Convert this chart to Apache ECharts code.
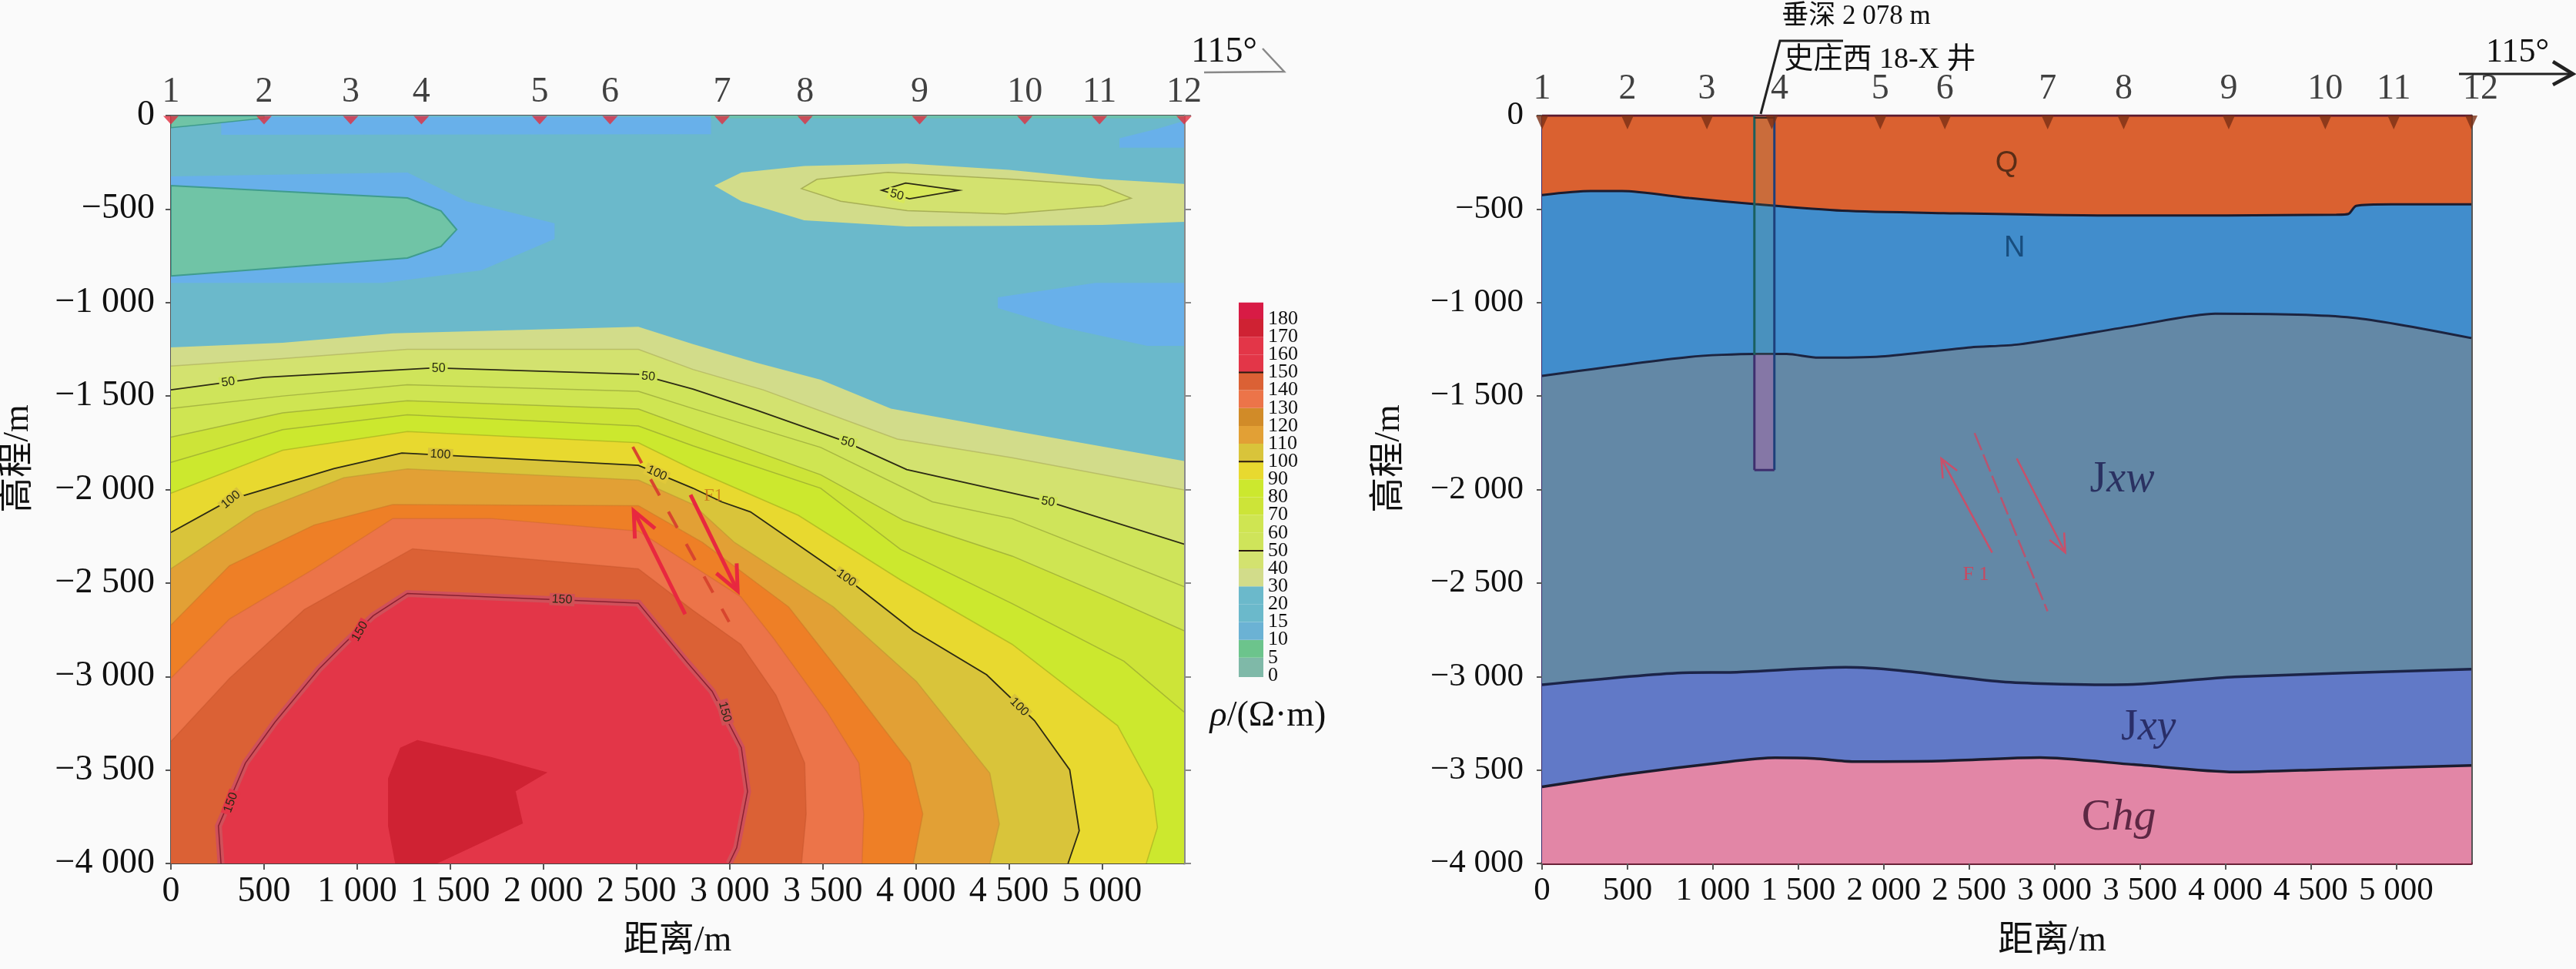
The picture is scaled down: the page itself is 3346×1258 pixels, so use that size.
<!DOCTYPE html>
<html><head><meta charset="utf-8">
<style>html,body{margin:0;padding:0;background:#fafafa}#c{width:3346px;height:1258px}</style>
<script src="https://cdn.jsdelivr.net/npm/echarts@6/dist/echarts.min.js"></script>
</head><body><div id="c"></div>
<script>
// ---------- shared data ----------
const xMax = 5440;
const stationX = [0,500,965,1345,1980,2358,2960,3405,4020,4585,4986,5440];
const stationLabels = ['1','2','3','4','5','6','7','8','9','10','11','12'];
const xTicks = [0,500,1000,1500,2000,2500,3000,3500,4000,4500,5000];
const colorLevels = ['0','5','10','15','20','30','40','50','60','70','80','90','100','110','120','130','140','150','160','170','180'];
const majorLevels = ['50','100','150'];

// ---------- left panel: resistivity contours, outline of each level as [distance, elevation] ----------
const lowBlueTop = [[270,-8],[2900,-8],[2900,-100],[2750,-100],[270,-103]];
const lowBlueLens = [[0,-325],[1270,-305],[1587,-458],[2060,-577],[2060,-660],[1666,-828],[1139,-895],[400,-895],[0,-895]];
const lowBlueRight = [[4440,-972],[4965,-895],[5440,-895],[5440,-1232],[5242,-1232],[4777,-1131],[4440,-1030]];
const lowBlueCorner = [[5093,-122],[5300,-70],[5440,-29],[5440,-172],[5093,-172]];
const lowGreenLens = [[0,-375],[1270,-441],[1450,-510],[1534,-610],[1450,-700],[1270,-762],[400,-828],[0,-858]];
const lowGreenWedge = [[0,-2],[500,-2],[500,-14],[200,-45],[0,-65]];
const lowGreenStrip = [[2900,0],[5440,0],[5440,-14],[2900,-14]];
const blob30 = [[2918,-375],[3063,-305],[3400,-270],[3950,-256],[4500,-290],[5000,-340],[5440,-366],[5440,-568],[5000,-585],[4500,-590],[3950,-593],[3400,-560],[3063,-458]];
const blob40 = [[3385,-391],[3469,-341],[3849,-304],[4524,-341],[4988,-374],[5156,-442],[5009,-484],[4481,-526],[3954,-509],[3596,-458]];
const blob50 = [[3816,-400],[3945,-361],[4230,-400],[3965,-445]];
const contour30 = [[0,-1240],[600,-1215],[1190,-1165],[2510,-1130],[2803,-1222],[3146,-1322],[3489,-1413],[3866,-1567],[4517,-1685],[5440,-1848]];
const contour40 = [[0,-1340],[600,-1300],[1270,-1250],[2510,-1250],[2803,-1358],[3180,-1467],[3900,-1730],[4517,-1830],[5440,-2002]];
const contour50 = [[0,-1467],[500,-1400],[1414,-1350],[2510,-1384],[2803,-1463],[3146,-1576],[3609,-1739],[3951,-1893],[4688,-2057],[5440,-2292]];
const contour60 = [[0,-1566],[600,-1500],[1270,-1440],[2510,-1475],[2803,-1567],[3489,-1775],[4089,-2066],[4517,-2156],[5440,-2519]];
const contour70 = [[0,-1720],[600,-1590],[1270,-1525],[2510,-1570],[2803,-1676],[3489,-1921],[3934,-2165],[4517,-2356],[5031,-2574],[5440,-2755]];
const contour80 = [[0,-1855],[600,-1680],[1270,-1600],[2510,-1660],[2803,-1766],[3489,-1993],[3917,-2320],[4517,-2610],[5117,-2918],[5440,-3190]];
const contour90 = [[0,-2020],[600,-1790],[1270,-1690],[2510,-1750],[2803,-1893],[3369,-2138],[3917,-2483],[4517,-2828],[5083,-3263],[5271,-3608],[5297,-3807],[5237,-4000]];
const contour100 = [[0,-2230],[322,-2053],[875,-1888],[1240,-1805],[2510,-1871],[2803,-1993],[2957,-2066],[3112,-2120],[3626,-2474],[3986,-2755],[4380,-2991],[4637,-3236],[4826,-3499],[4877,-3825],[4817,-4000]];
const contour110 = [[0,-2424],[453,-2122],[928,-1937],[1270,-1890],[2510,-1950],[2803,-2080],[3026,-2283],[3557,-2628],[4003,-3027],[4397,-3517],[4448,-3789],[4397,-4000]];
const contour120 = [[0,-2725],[315,-2407],[769,-2190],[1191,-2080],[2510,-2086],[2854,-2283],[3317,-2628],[3660,-3063],[3969,-3463],[4037,-3735],[3986,-4000]];
const contour130 = [[0,-3009],[315,-2692],[769,-2424],[1191,-2155],[1719,-2155],[2510,-2222],[3060,-2574],[3232,-2791],[3523,-3190],[3694,-3463],[3720,-3735],[3711,-4000]];
const contour140 = [[0,-3347],[315,-3009],[716,-2642],[1297,-2317],[2510,-2424],[2803,-2646],[3060,-2828],[3249,-3100],[3403,-3463],[3411,-3735],[3386,-4000]];
const contour150 = [[269,-4000],[255,-3800],[321,-3648],[400,-3463],[558,-3245],[795,-2960],[927,-2828],[1086,-2675],[1270,-2556],[2510,-2608],[2773,-2926],[2906,-3079],[3063,-3381],[3096,-3615],[3038,-3916],[2997,-4000]];
const core170 = [[1204,-4000],[1166,-3800],[1166,-3545],[1231,-3381],[1323,-3340],[1719,-3430],[2022,-3513],[1851,-3614],[1890,-3786],[1430,-4000]];
const contourLabelPoints = [[308,-1426,'50'],[1437,-1353,'50'],[2563,-1396,'50'],[3634,-1748,'50'],[4709,-2066,'50'],[3898,-425,'50'],
  [322,-2055,'100'],[1447,-1813,'100'],[2609,-1913,'100'],[3626,-2474,'100'],[4555,-3163,'100'],
  [1015,-2759,'150'],[322,-3674,'150'],[2100,-2589,'150'],[2974,-3190,'150']];
const faultLeftDash = [[2480,-1772],[2997,-2708]];
const faultLeftArrowA = [[2761,-2667],[2485,-2114]];
const faultLeftArrowB = [[2790,-2028],[3043,-2543]];
const faultLeftLabel = [[2914,-2032,'F1']];

// ---------- right panel: stratum boundaries ----------
const surfaceLine = [[0,0],[5440,0]];
const baseQ = [[0,-425],[284,-404],[468,-404],[860,-441],[1248,-474],[1757,-509],[2351,-522],[3252,-534],[4009,-534],[4650,-530],[4721,-526],[4766,-483],[4973,-475],[5440,-475]];
const baseN = [[0,-1392],[860,-1291],[1248,-1275],[1432,-1275],[1617,-1295],[1986,-1288],[2509,-1240],[2791,-1224],[3480,-1122],[3941,-1060],[4745,-1081],[5440,-1190]];
const baseJxw = [[0,-3044],[820,-2980],[1139,-2977],[1777,-2951],[2095,-2968],[2688,-3028],[3234,-3044],[3463,-3042],[4055,-3002],[5440,-2961]];
const baseJxy = [[0,-3590],[500,-3522],[1044,-3461],[1364,-3435],[1594,-3439],[1822,-3455],[2322,-3452],[2915,-3434],[3463,-3471],[4055,-3511],[4600,-3497],[5440,-3476]];
const wellX = [1243,1360];
const wellBottom = -1896;
const wellTopOfRock = -1280;
const faultRightDash = [[2532,-1698],[2959,-2651]];
const faultRightArrowA = [[2635,-2337],[2337,-1834]];
const faultRightArrowB = [[2779,-1834],[3063,-2337]];
const faultRightLabel = [[2540,-2455,'F 1']];
const stratumLabels = [[2720,-256,'{s|Q}'],[2766,-709,'{n|N}'],[3396,-1950,'{a|J}{i|xw}'],[3550,-3277,'{a|J}{i|xy}'],[3376,-3755,'{c|C}{k|hg}']];

// ---------- styles (not data) ----------
const serif = '"Liberation Serif","Noto Sans CJK SC",serif';
const C = {bg:'#fafafa',teal:'#6bb9cb',blue:'#68b0ea',green:'#70c4a6'};
const levelColor = {30:'#d2dc8a',40:'#d3e26f',50:'#cfe45a',60:'#cfe552',70:'#cde438',80:'#cce82e',90:'#e8d92f',100:'#d9c43a',110:'#e2a035',120:'#ee7f26',130:'#ec7449',140:'#db6135',150:'#e33648',170:'#cf2233'};
const palette = ['#7fb9a8','#6cc48c','#6bb2d4','#6bb9cb','#6bb9cb','#d2dc8a','#d3e26f','#cfe45a','#cfe552','#cde438','#cce82e','#e8d92f','#d9c43a','#e2a035','#d18b28','#ec7449','#db6135','#e33648','#e33648','#cf2233','#d81b45'];
const contourLabelAngles = [8,0,-5,-15,-10,-15, 40,-3,-25,-35,-45, 60,70,-3,-75];
const contourLabelBg = ['#cfe45a','#cfe45a','#cfe45a','#cfe45a','#cfe45a','#d8e85a','#d9c43a','#d9c43a','#e0c83a','#d9c43a','#d9c43a','#e33648','#e33648','#d05055','#d05055'];
const barMin = -0.09, barMax = 20.93;

const boxed = {outerBoundsMode:'none',containLabel:false};
const G = {L:{left:222,top:150,width:1316,height:971,...boxed},R:{left:2003,top:150,width:1207,height:971,...boxed},B:{left:1609,top:392.5,width:32,height:486.5,...boxed}};
const fmt = v => { const a=Math.abs(v); const s=a>=1000?Math.floor(a/1000)+' '+String(a%1000).padStart(3,'0'):String(a); return (v<0?'\u2212':'')+s; };

function pts(api,p){return p.map(d=>api.coord(d));}
// filled region + its outline
function regionSeries(x,y,list){
  return {type:'custom',xAxisIndex:x,yAxisIndex:y,clip:true,silent:true,data:list.map((o,i)=>[o.p[0][0],o.p[0][1],i]),encode:{x:0,y:1},
    renderItem(params,api){
      const o=list[params.dataIndex]; const ch=[];
      const closed=o.close?o.p.concat(o.close):o.p;
      ch.push({type:'polygon',shape:{points:pts(api,closed)},style:{fill:o.fill}});
      if(o.halo) ch.push({type:'polyline',shape:{points:pts(api,o.p)},style:{fill:null,stroke:o.halo,lineWidth:o.haloW||10}});
      if(o.line) ch.push({type:o.ring?'polygon':'polyline',shape:{points:pts(api,o.p)},style:{fill:null,stroke:o.line,lineWidth:o.lw||1.5}});
      return {type:'group',children:ch};
    }};
}
const bottomClose = [[0,-4000]];
const rightClose = [[xMax,-4000],[0,-4000]];
const minor = 'rgba(135,145,50,0.55)';
const major = '#2c2a14';
const leftRegions = [
  {p:[[0,0],[xMax,0],[xMax,-4000],[0,-4000]],fill:C.teal},
  {p:lowBlueTop,fill:C.blue},{p:lowBlueLens,fill:C.blue},{p:lowBlueRight,fill:C.blue},{p:lowBlueCorner,fill:C.blue},
  {p:lowGreenLens,fill:C.green,line:'#3f9c8e',lw:2,ring:true},{p:lowGreenWedge,fill:C.green,line:'#3f9c8e',lw:1.5,ring:true},{p:lowGreenStrip,fill:'#6cc2ac'},
  {p:blob30,fill:levelColor[30]},{p:blob40,fill:levelColor[40],line:'rgba(150,155,70,0.7)',ring:true},{p:blob50,fill:'#d8e85a',line:major,lw:1.8,ring:true},
  {p:contour30,close:rightClose,fill:levelColor[30]},
  {p:contour40,close:rightClose,fill:levelColor[40],line:'rgba(170,170,90,0.6)'},
  {p:contour50,close:rightClose,fill:levelColor[50],line:major,lw:1.8},
  {p:contour60,close:rightClose,fill:levelColor[60],line:minor},
  {p:contour70,close:rightClose,fill:levelColor[70],line:minor},
  {p:contour80,close:rightClose,fill:levelColor[80],line:minor},
  {p:contour90,close:bottomClose,fill:levelColor[90],line:'rgba(160,170,30,0.6)'},
  {p:contour100,close:bottomClose,fill:levelColor[100],line:major,lw:1.8},
  {p:contour110,close:bottomClose,fill:levelColor[110],line:'rgba(190,150,50,0.6)'},
  {p:contour120,close:bottomClose,fill:levelColor[120],line:'rgba(200,120,40,0.5)'},
  {p:contour130,close:bottomClose,fill:levelColor[130],line:'rgba(200,100,50,0.4)'},
  {p:contour140,close:bottomClose,fill:levelColor[140],line:'rgba(190,80,40,0.4)'},
  {p:contour150,fill:levelColor[150],halo:'#d0505a',haloW:9,line:'#8a2030',lw:1.5},
  {p:core170,fill:levelColor[170]}
];

function arrowSeries(x,y,dash,arrows,colorDash,colorArrow,wDash,wArrow,pattern,barb){
  return {type:'custom',xAxisIndex:x,yAxisIndex:y,clip:false,silent:true,z:5,data:[[dash[0][0],dash[0][1]]],encode:{x:0,y:1},
    renderItem(params,api){
      const ch=[{type:'polyline',shape:{points:pts(api,dash)},style:{fill:null,stroke:colorDash,lineWidth:wDash,lineDash:pattern}}];
      arrows.forEach(a=>{
        const t=api.coord(a[0]),h=api.coord(a[1]); const ang=Math.atan2(t[1]-h[1],t[0]-h[0]);
        const bar=s=>[h[0]+barb*Math.cos(ang+s*0.42),h[1]+barb*Math.sin(ang+s*0.42)];
        ch.push({type:'polyline',shape:{points:[t,h]},style:{fill:null,stroke:colorArrow,lineWidth:wArrow}});
        ch.push({type:'polyline',shape:{points:[bar(1),h,bar(-1)]},style:{fill:null,stroke:colorArrow,lineWidth:wArrow,lineJoin:'miter'}});
      });
      return {type:'group',children:ch};
    }};
}
function textSeries(x,y,rows,size,color){
  return {type:'scatter',xAxisIndex:x,yAxisIndex:y,symbolSize:0,silent:true,z:6,data:rows.map(r=>[r[0],r[1]]),
    label:{show:true,position:'inside',fontFamily:serif,fontSize:size,color,formatter:p=>rows[p.dataIndex][2]}};
}
function stationSeries(x,y,color,size,off,extra){
  return {type:'scatter',xAxisIndex:x,yAxisIndex:y,clip:false,silent:true,z:6,symbol:'triangle',symbolRotate:180,symbolSize:size,symbolOffset:[0,off],itemStyle:{color},
    data:stationX.map((v,i)=>{const it={value:[v,0]}; if(extra[i]) it.label={offset:[extra[i],0]}; return it;}),
    label:{show:true,position:'top',distance:off+2,fontFamily:serif,fontSize:46,color:'#111',formatter:p=>stationLabels[p.dataIndex]}};
}
const mkLine = (c,w)=>({show:true,onZero:false,lineStyle:{color:c,width:w}});
function xAxes(gi,labelSize,nameShift,bottomCol,bottomW,topCol,topW){
  return [
   {gridIndex:gi,type:'value',min:0,max:xMax,position:'bottom',splitLine:{show:false},axisLine:mkLine(bottomCol,bottomW),
    axisTick:{show:true,length:8,lineStyle:{color:'#555',width:2},customValues:xTicks},
    axisLabel:{fontFamily:serif,fontSize:labelSize,color:'#111',margin:14,customValues:xTicks,formatter:fmt},
    name:'距离/m',nameLocation:'middle',nameGap:78,nameTextStyle:{fontFamily:serif,fontSize:46,color:'#111',padding:[0,0,0,nameShift]}},
   {gridIndex:gi,type:'value',min:0,max:xMax,position:'top',splitLine:{show:false},axisLine:mkLine(topCol,topW),axisTick:{show:false},axisLabel:{show:false}}
  ];
}
const yTicks = {min:-4000,max:0,interval:500};
function yAxes(gi,labelSize,margin,leftCol,rightCol,rightW,rightTicks){
  return [
   {gridIndex:gi,type:'value',...yTicks,position:'left',splitLine:{show:false},axisLine:mkLine(leftCol,2),
    axisTick:{show:true,length:7,lineStyle:{color:'#555',width:2}},
    axisLabel:{fontFamily:serif,fontSize:labelSize,color:'#111',margin,formatter:fmt},
    name:'高程/m',nameLocation:'middle',nameGap:175,nameTextStyle:{fontFamily:serif,fontSize:46,color:'#111',padding:[0,0,0,80]}},
   {gridIndex:gi,type:'value',...yTicks,position:'right',splitLine:{show:false},axisLine:mkLine(rightCol,rightW),
    axisTick:{show:rightTicks,length:9,lineStyle:{color:'#888',width:2}},axisLabel:{show:false}}
  ];
}
function layer(data,fill,lineCol,lw){
  return {type:'line',xAxisIndex:2,yAxisIndex:2,data,smooth:0.25,symbol:'none',silent:true,
    lineStyle:{color:lineCol,width:lw},areaStyle:{origin:'start',color:fill,opacity:1}};
}

const barBands = colorLevels.map((l,i)=>[i,i===20?barMax:i+1]);
const colorbar = {type:'custom',xAxisIndex:4,yAxisIndex:4,silent:true,clip:true,data:barBands.map(b=>[0.5,b[0]]),encode:{x:0,y:1},
  renderItem(params,api){
    const i=params.dataIndex,b=barBands[i]; const a=api.coord([0,i===0?barMin:b[0]]),c=api.coord([1,b[1]]);
    const ch=[{type:'rect',shape:{x:a[0],y:c[1],width:c[0]-a[0],height:a[1]-c[1]},style:{fill:palette[i]}}];
    if(majorLevels.includes(colorLevels[i])) ch.push({type:'line',shape:{x1:a[0],y1:a[1],x2:c[0],y2:a[1]},style:{stroke:'#2a1a10',lineWidth:2}});
    return {type:'group',children:ch};
  }};

const contourLabels = {type:'custom',xAxisIndex:0,yAxisIndex:0,silent:true,clip:true,data:contourLabelPoints.map(r=>[r[0],r[1]]),encode:{x:0,y:1},
  renderItem(params,api){
    const i=params.dataIndex,r=contourLabelPoints[i],c=api.coord([r[0],r[1]]);
    return {type:'text',x:c[0],y:c[1],rotation:contourLabelAngles[i]*Math.PI/180,
      style:{text:r[2],align:'center',verticalAlign:'middle',fontFamily:'"Liberation Sans",sans-serif',fontSize:16,fill:'#2a2a14',backgroundColor:contourLabelBg[i],padding:[0,3]}};
  }};

const wellSeries = {type:'custom',xAxisIndex:2,yAxisIndex:2,silent:true,clip:false,z:5,data:[[wellX[0],0]],encode:{x:0,y:1},
  renderItem(params,api){
    const a=api.coord([wellX[0],0]),b=api.coord([wellX[1],wellBottom]),r=api.coord([wellX[0],wellTopOfRock]);
    return {type:'group',children:[
      {type:'rect',shape:{x:a[0],y:a[1],width:b[0]-a[0],height:r[1]-a[1]},style:{fill:'rgba(120,165,120,0.16)'}},
      {type:'rect',shape:{x:a[0],y:r[1],width:b[0]-a[0],height:b[1]-r[1]},style:{fill:'#8577a6'}},
      {type:'line',shape:{x1:a[0],y1:a[1],x2:a[0],y2:r[1]},style:{stroke:'#1a5f5e',lineWidth:3}},
      {type:'line',shape:{x1:a[0],y1:r[1],x2:a[0],y2:b[1]},style:{stroke:'#3e2f6e',lineWidth:3}},
      {type:'line',shape:{x1:b[0],y1:a[1],x2:b[0],y2:b[1]},style:{stroke:'#1d3f7a',lineWidth:3}},
      {type:'line',shape:{x1:a[0],y1:b[1],x2:b[0],y2:b[1]},style:{stroke:'#3e2f6e',lineWidth:3}},
      {type:'line',shape:{x1:a[0],y1:a[1]+3,x2:b[0],y2:a[1]+3},style:{stroke:'#3a2a20',lineWidth:2}}
    ]};
  }};

const annText=(x,y,text,size,align)=>({type:'text',x,y,z:20,style:{text,fontFamily:serif,fontSize:size,fill:'#111',align:align||'center',verticalAlign:'middle'}});
const annLine=(pts,c,w)=>({type:'polyline',z:20,shape:{points:pts},style:{fill:null,stroke:c,lineWidth:w}});

const chart = echarts.init(document.getElementById('c'),null,{renderer:'canvas'});
chart.setOption({
  animation:false,backgroundColor:C.bg,
  // grids: 0 left, 1 right, 2 colour bar. axes: x[0,1] & y[0,1] left, x[2,3] & y[2,3] right, x[4] & y[4] bar
  grid:[G.L,G.R,G.B],
  xAxis:[...xAxes(0,46,0,'#444',2,'#555',2),...xAxes(1,43,118,'#6a2238',4,'#4a1a30',3),{gridIndex:2,type:'value',min:0,max:1,show:false}],
  yAxis:[...yAxes(0,46,21,'#555','#8a8a8a',3,true),...yAxes(1,43,24,'#3a2a6a','#555',3,false),
    {gridIndex:2,type:'value',min:barMin,max:barMax,position:'right',splitLine:{show:false},axisLine:{show:false},axisTick:{show:false},
     axisLabel:{fontFamily:serif,fontSize:26,color:'#111',margin:6,customValues:[barMin,...colorLevels.map((_,i)=>i),barMax],formatter:v=>Number.isInteger(v)?colorLevels[v]:'',showMinLabel:false,showMaxLabel:false,hideOverlap:false}}],
  series:[
    regionSeries(0,0,leftRegions),
    contourLabels,
    arrowSeries(0,0,faultLeftDash,[faultLeftArrowA,faultLeftArrowB],'#d8452e','#e8283f',4,5,[24,24],36),
    textSeries(0,0,faultLeftLabel,24,'#c8701a'),
    stationSeries(0,0,'#e03040',[20,11],6,{}),
    layer(surfaceLine,'#da6130','#5a1a30',3),
    layer(baseQ,'#418dcc','#1c1c2e',3),
    layer(baseN,'#6388a6','#1c2440',3),
    layer(baseJxw,'#6179c7','#1c2448',3.5),
    layer(baseJxy,'#e286a6','#1c1c2e',3.5),
    wellSeries,
    arrowSeries(2,2,faultRightDash,[faultRightArrowA,faultRightArrowB],'#b85470','#c8506a',2.5,2.5,[24,6],26),
    textSeries(2,2,faultRightLabel,26,'#e03a50'),
    {type:'scatter',xAxisIndex:2,yAxisIndex:2,symbolSize:0,silent:true,z:6,data:stratumLabels.map(r=>[r[0],r[1]]),
     label:{show:true,position:'inside',formatter:p=>stratumLabels[p.dataIndex][2],rich:{
       s:{fontFamily:'"Liberation Sans",sans-serif',fontSize:38,color:'#3a2010'},
       n:{fontFamily:'"Liberation Sans",sans-serif',fontSize:38,color:'#0e3d6a'},
       a:{fontFamily:serif,fontSize:56,color:'#1b1c50'},i:{fontFamily:serif,fontSize:56,fontStyle:'italic',color:'#1b1c50'},
       c:{fontFamily:serif,fontSize:58,color:'#3c0f2a'},k:{fontFamily:serif,fontSize:58,fontStyle:'italic',color:'#3c0f2a'}}}},
    stationSeries(2,2,'#7b3015',[16,18],9,{3:10,11:12}),
    colorbar
  ],
  graphic:[
    annText(1590,68,'115°',46),
    annLine([[1640,63],[1668,93],[1564,94]],'#888',2.5),
    annText(3270,68,'115°',44),
    annLine([[3194,96],[3340,96]],'#222',3),
    annLine([[3316,80],[3342,96],[3316,110]],'#222',4.5),
    annText(2411,22,'垂深 2 078 m',35),
    annText(2442,78,'史庄西 18-X 井',38),
    annLine([[2287,148],[2312,53],[2394,53]],'#222',3),
    {type:'text',x:1647,y:930,z:20,style:{rich:{i:{fontFamily:serif,fontSize:46,fontStyle:'italic',fill:'#111'},t:{fontFamily:serif,fontSize:46,fill:'#111'}},text:'{i|ρ}{t|/(Ω·m)}',align:'center',verticalAlign:'middle'}}
  ]
});
</script></body></html>
